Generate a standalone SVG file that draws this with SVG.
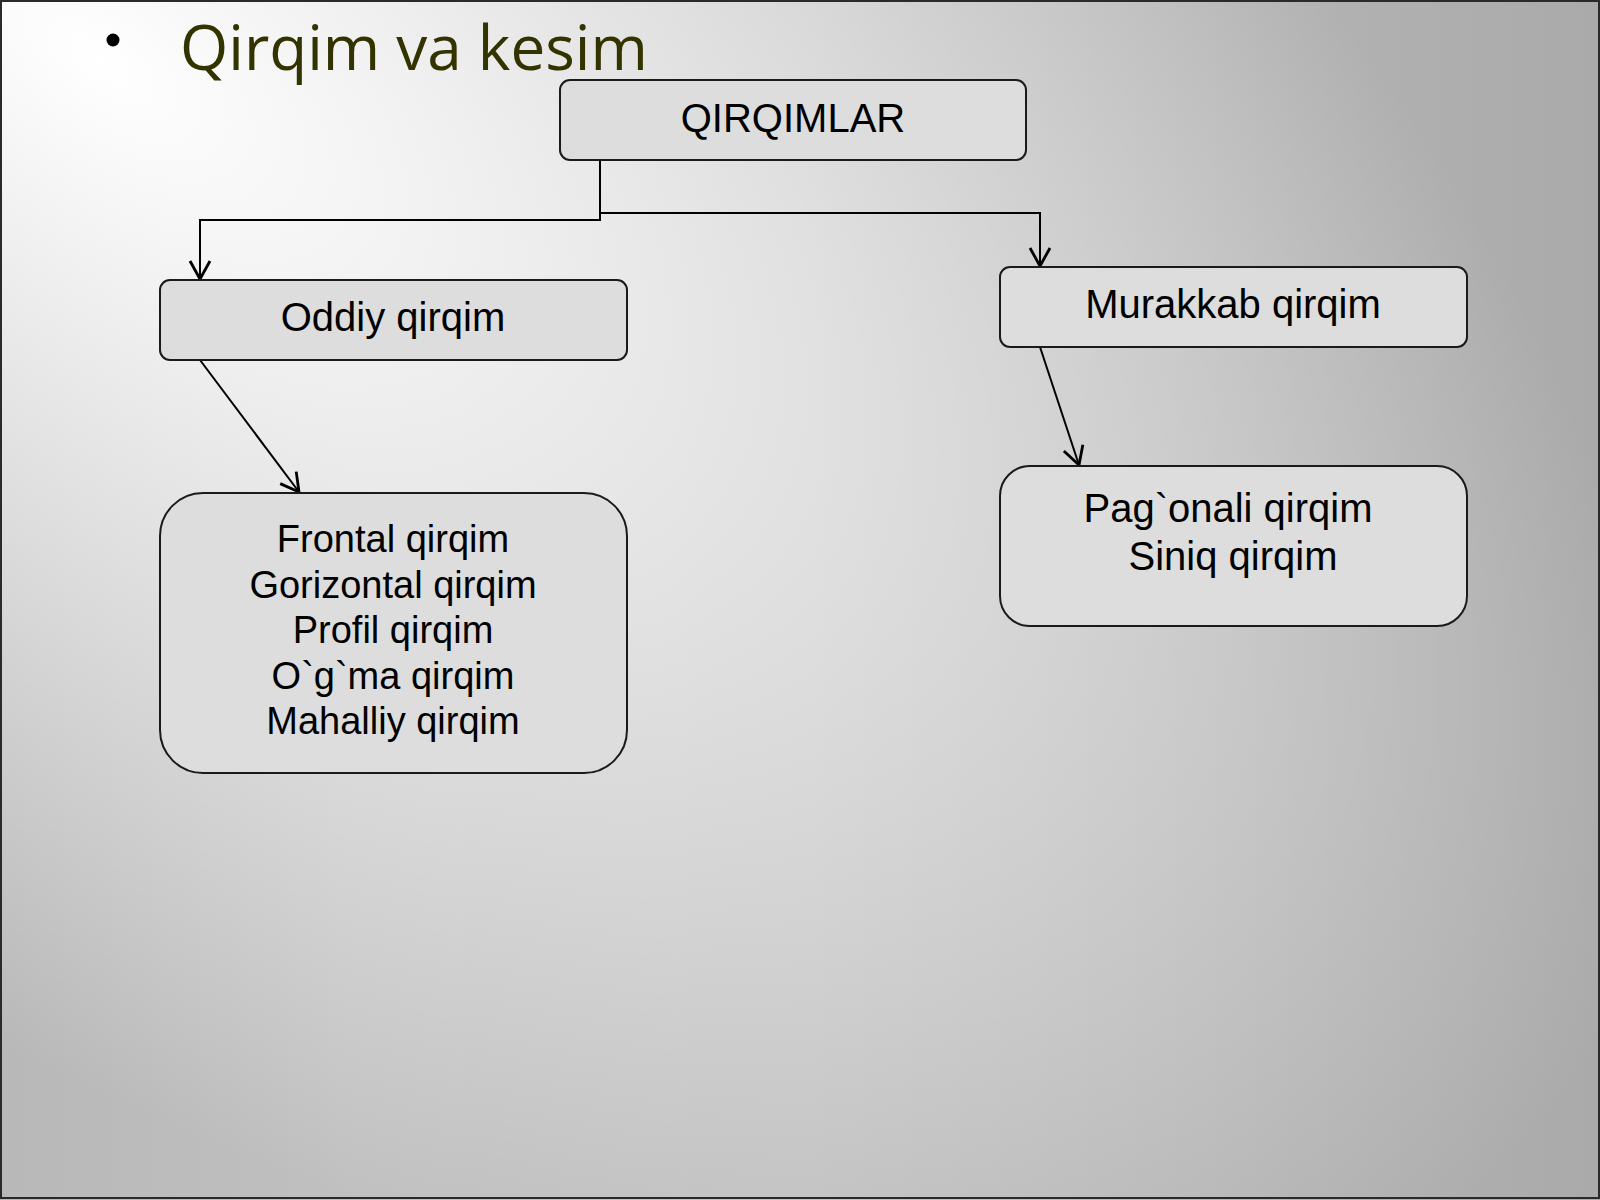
<svg xmlns="http://www.w3.org/2000/svg" width="1600" height="1200" viewBox="0 0 1600 1200">
  <defs>
    <linearGradient id="bgBase" x1="0" y1="0" x2="1600" y2="0" gradientUnits="userSpaceOnUse">
      <stop offset="0" stop-color="#b8b8b8"/>
      <stop offset="0.22" stop-color="#c0c0c0"/>
      <stop offset="0.5" stop-color="#bebebe"/>
      <stop offset="0.75" stop-color="#b5b5b5"/>
      <stop offset="1" stop-color="#aaaaaa"/>
    </linearGradient>
    <radialGradient id="bgGlow" gradientUnits="userSpaceOnUse" cx="0" cy="0" r="1" gradientTransform="translate(100,60) rotate(35) scale(1800,900)">
      <stop offset="0" stop-color="#ffffff" stop-opacity="1"/>
      <stop offset="1" stop-color="#ffffff" stop-opacity="0"/>
    </radialGradient>
    <marker id="arrow" viewBox="-22 -13 26 26" markerWidth="26" markerHeight="26" refX="0" refY="0" orient="auto" markerUnits="userSpaceOnUse">
      <path d="M -18,-10 L 0,0 L -18,10" fill="none" stroke="#000" stroke-width="2.8"/>
    </marker>
    <style>
      .box { fill: #dddddd; stroke: #1a1a1a; stroke-width: 2; }
      .lbl { font-family: "Liberation Sans", Arial, sans-serif; fill: #000; text-anchor: middle; }
      .conn { fill: none; stroke: #000; stroke-width: 2; }
      .title { font-family: "Open Sans", "Noto Sans", sans-serif; fill: #333300; font-size: 62px; }
    </style>
  </defs>

  <g id="background">
    <rect x="0" y="0" width="1600" height="1200" fill="url(#bgBase)"/>
    <rect x="0" y="0" width="1600" height="1200" fill="url(#bgGlow)"/>
    <rect x="1" y="1" width="1598" height="1197" fill="none" stroke="#2a2a2a" stroke-width="2"/>
  </g>

  <g id="title">
    <circle cx="113" cy="40" r="6.5" fill="#000"/>
    <text class="title" x="180" y="70">Qirqim va kesim</text>
  </g>

  <g id="connectors">
    <path class="conn" d="M 600,160 V 220 H 200 V 279" marker-end="url(#arrow)"/>
    <path class="conn" d="M 600,213 H 1040 V 266" marker-end="url(#arrow)"/>
    <path class="conn" d="M 200,360 L 299,492" marker-end="url(#arrow)"/>
    <path class="conn" d="M 1040,347 L 1079,465" marker-end="url(#arrow)"/>
  </g>

  <g id="node-qirqimlar">
    <rect class="box" x="560" y="80" width="466" height="80" rx="10" ry="10"/>
    <text class="lbl" x="793" y="132" font-size="40">QIRQIMLAR</text>
  </g>

  <g id="node-oddiy">
    <rect class="box" x="160" y="280" width="467" height="80" rx="10" ry="10"/>
    <text class="lbl" x="393" y="331" font-size="40">Oddiy qirqim</text>
  </g>

  <g id="node-murakkab">
    <rect class="box" x="1000" y="267" width="467" height="80" rx="10" ry="10"/>
    <text class="lbl" x="1233" y="318" font-size="40">Murakkab qirqim</text>
  </g>

  <g id="node-oddiy-list">
    <rect class="box" x="160" y="493" width="467" height="280" rx="43" ry="43"/>
    <text class="lbl" font-size="38" x="393" y="552">Frontal qirqim</text>
    <text class="lbl" font-size="38" x="393" y="597.5">Gorizontal qirqim</text>
    <text class="lbl" font-size="38" x="393" y="643">Profil qirqim</text>
    <text class="lbl" font-size="38" x="393" y="688.5">O`g`ma qirqim</text>
    <text class="lbl" font-size="38" x="393" y="734">Mahalliy qirqim</text>
  </g>

  <g id="node-murakkab-list">
    <rect class="box" x="1000" y="466" width="467" height="160" rx="30" ry="30"/>
    <text class="lbl" font-size="40" x="1228" y="522">Pag`onali qirqim</text>
    <text class="lbl" font-size="40" x="1233" y="570">Siniq qirqim</text>
  </g>
</svg>
